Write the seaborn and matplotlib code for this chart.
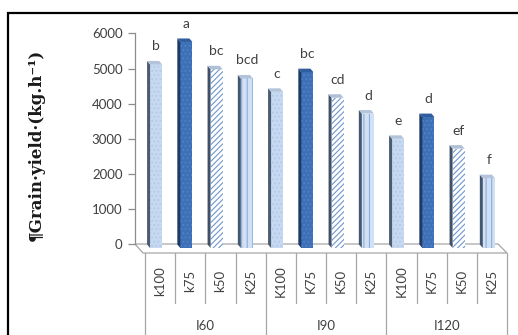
import numpy as np
import pandas as pd
import matplotlib
matplotlib.use("Agg")
import matplotlib.pyplot as plt
import seaborn as sns
from matplotlib.patches import Polygon, Rectangle

# ---- data -------------------------------------------------------------
groups = ["I60", "I90", "I120"]
treatments = ["k100", "k75", "k50", "K25",
              "K100", "K75", "K50", "K25",
              "K100", "K75", "K50", "K25"]
yields = [5230, 5870, 5090, 4830,
          4450, 5010, 4280, 3830,
          3110, 3730, 2830, 1990]
letters = ["b", "a", "bc", "bcd",
           "c", "bc", "cd", "d",
           "e", "d", "ef", "f"]
y_ticks = [0, 1000, 2000, 3000, 4000, 5000, 6000]

# ---- styling per potassium level ---------------------------------------
level_style = {
    "100": dict(face="#c6d9f1", hatch="....", hc="#b2c9e8", side="#4a5b72", cap="#b3c4da"),
    "75":  dict(face="#3d70b7", hatch="....", hc="#5282c4", side="#1d3a66", cap="#2f5d9e"),
    "50":  dict(face="#ffffff", hatch="//////", hc="#7097cc", side="#3f5069", cap="#aebfd6"),
    "25":  dict(face="#d2e0f4", hatch="|||", hc="#8aaedd", side="#44576f", cap="#b3c4da"),
}

W, H = 518, 335
S = 35.1 / 1000.0          # pixels per kg/ha
DX, DY = -3.0, 3.5         # depth offset of the bar tops / sides (pixels)

sns.set_style("white")
plt.rcParams["font.family"] = ["Lato", "DejaVu Sans"]
plt.rcParams["hatch.linewidth"] = 0.8

fig = plt.figure(figsize=(W / 100, H / 100), dpi=100)
fig.patch.set_facecolor("white")

# back wall carrying the value axis
axw = fig.add_axes([135 / W, (H - 244) / H, (498 - 135) / W, 6000 * S / H])
axw.set_ylim(0, 6000)
axw.set_xlim(0, 1)
axw.patch.set_visible(False)
for side in ("top", "right", "bottom"):
    axw.spines[side].set_visible(False)
axw.spines["left"].set_color("#8c8c8c")
axw.spines["left"].set_linewidth(0.9)
axw.set_xticks([])
axw.set_yticks(y_ticks)
axw.set_yticklabels([str(t) for t in y_ticks])
axw.tick_params(axis="y", direction="out", length=5, width=0.9, color="#8c8c8c",
                labelcolor="#404040", labelsize=9.5, pad=4, left=True)

# floor of the 3-D chart
floor = Polygon([(135 / W, 1 - 244 / H), (498 / W, 1 - 244 / H),
                 (507 / W, 1 - 253 / H), (143 / W, 1 - 253 / H)],
                closed=True, transform=fig.transFigure, facecolor="white",
                edgecolor="#a6a6a6", lw=0.9, zorder=-1)
fig.add_artist(floor)

# front faces of the bars
ax = fig.add_axes([141 / W, (H - 248) / H, (504 - 141) / W, 6000 * S / H])
ax.patch.set_visible(False)
df = pd.DataFrame({"pos": list(range(len(yields))), "yield": yields})
sns.barplot(data=df, x="pos", y="yield", hue="pos", palette=["#cccccc"] * len(yields),
            width=0.4, saturation=1, legend=False, errorbar=None, ax=ax)
ax.set_xlim(-0.5, len(yields) - 0.5)
ax.set_ylim(0, 6000)
ax.set_axis_off()

to_fig = fig.transFigure.inverted()
bars = sorted(ax.patches, key=lambda p: p.get_x())
for i, p in enumerate(bars):
    lvl = treatments[i][1:]
    st = level_style[lvl]
    p.set_facecolor(st["face"])
    p.set_hatch(st["hatch"])
    p.set_edgecolor(st["hc"])
    p.set_linewidth(0)
    x0, y0 = p.get_x(), p.get_y()
    x1, y1 = x0 + p.get_width(), y0 + p.get_height()
    (px0, py0), (px1, py1) = ax.transData.transform([(x0, y0), (x1, y1)])
    side = [(px0, py0), (px0, py1), (px0 + DX, py1 + DY), (px0 + DX, py0 + DY)]
    cap = [(px0, py1), (px1, py1), (px1 + DX, py1 + DY), (px0 + DX, py1 + DY)]
    for pts, col in ((side, st["side"]), (cap, st["cap"])):
        fig.add_artist(Polygon(to_fig.transform(pts), closed=True,
                               transform=fig.transFigure, facecolor=col,
                               edgecolor="none", zorder=2))
    ax.annotate(letters[i], xy=(p.get_x() + p.get_width() / 2, y1),
                xytext=(0, 14), textcoords="offset pixels",
                ha="center", va="baseline", fontsize=10, color="#404040")

# category table under the floor
axt = fig.add_axes([145 / W, 0, (507 - 145) / W, (H - 253) / H])
axt.set_xlim(0, len(treatments))
axt.set_ylim(H - 253, 0)
axt.set_axis_off()
for k in range(len(treatments) + 1):
    bottom = 90 if k % 4 == 0 else 50
    axt.plot([k, k], [0, bottom], color="#a6a6a6", lw=0.9, clip_on=False)
for i, name in enumerate(treatments):
    axt.text(i + 0.5, 28, name, rotation=90, ha="center", va="center",
             fontsize=9.5, color="#404040")
for g, name in enumerate(groups):
    axt.text(4 * g + 2, 73, name, ha="center", va="center",
             fontsize=9.5, color="#404040")

# value axis title
fig.text(36 / W, 1 - 145 / H, "¶Grain·yield·(kg.h⁻¹)", rotation=90,
         ha="center", va="center", fontsize=12, fontweight="bold",
         family=["DejaVu Serif"], color="#1a1a1a")

# outer frame of the chart area
fig.add_artist(Rectangle((8 / W, -0.2), 1.2, (H - 13) / H + 0.2,
                         transform=fig.transFigure, fill=False,
                         edgecolor="black", lw=1.6, zorder=5))

fig.savefig("out.png", dpi=100)
